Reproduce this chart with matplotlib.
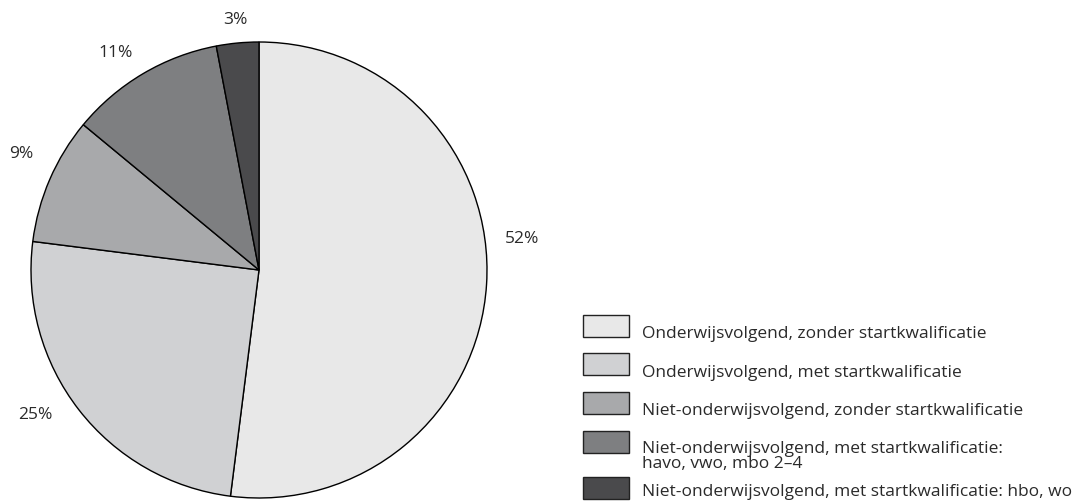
import matplotlib
matplotlib.use("Agg")
import numpy as np
import matplotlib.pyplot as plt
from matplotlib.patches import Rectangle

plt.rcParams["font.family"] = ["Open Sans", "DejaVu Sans"]

# Data
labels = [
    "Onderwijsvolgend, zonder startkwalificatie",
    "Onderwijsvolgend, met startkwalificatie",
    "Niet-onderwijsvolgend, zonder startkwalificatie",
    "Niet-onderwijsvolgend, met startkwalificatie:\nhavo, vwo, mbo 2\u20134",
    "Niet-onderwijsvolgend, met startkwalificatie: hbo, wo",
]
shares = [52, 25, 9, 11, 3]
colors = ["#e8e8e8", "#d0d1d3", "#a8a9ab", "#7e7f81", "#4a4a4c"]

# label placement tweaks (degrees off the slice middle, radius)
label_nudge = [10.3, -4.9, -2.6, 2.9, 0.0]
label_radius = [1.16, 1.17, 1.16, 1.14, 1.10]

W, H = 1078, 501
fig = plt.figure(figsize=(W / 100, H / 100), dpi=100)
txt = "#2a2a2a"
fs = 12.5

# pie axes placed in pixels: left 31, top 42, diameter 456
ax = fig.add_axes([31 / W, (H - 498) / H, 456 / W, 456 / H])
wedges, _ = ax.pie(shares, colors=colors, startangle=90, counterclock=False,
                   wedgeprops=dict(edgecolor="black", linewidth=1))
for w, v, d, r in zip(wedges, shares, label_nudge, label_radius):
    ang = np.deg2rad((w.theta1 + w.theta2) / 2 + d)
    ax.text(r * np.cos(ang), r * np.sin(ang), f"{v}%", fontsize=fs,
            color=txt, ha="center", va="center")
ax.set_xlim(-1, 1)
ax.set_ylim(-1, 1)
ax.set_aspect("equal")
ax.axis("off")

# legend drawn by hand on an overlay in pixel units
lax = fig.add_axes([0, 0, 1, 1])
lax.set_xlim(0, W)
lax.set_ylim(H, 0)
lax.axis("off")
tops = [315, 353, 392, 431, 477]
# baseline of the last line of each entry
baselines = [338, 377, 415, 468, 496]
for lab, col, top, bl in zip(labels, colors, tops, baselines):
    lax.add_patch(Rectangle((583, top), 46, 22, facecolor=col,
                            edgecolor="#222222", linewidth=1))
    lax.text(642, bl, lab, fontsize=fs, color=txt,
             va="baseline", ha="left", linespacing=0.9)

fig.savefig("out.png", dpi=100)
